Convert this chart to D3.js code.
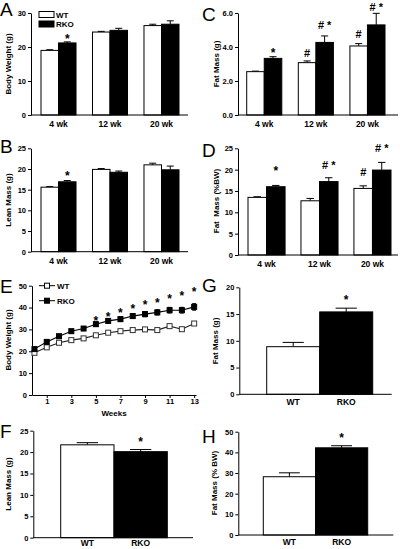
<!DOCTYPE html>
<html><head><meta charset="utf-8">
<script src="https://cdn.jsdelivr.net/npm/d3@7"></script>
<style>
html,body{margin:0;padding:0;background:#fff;}
svg{display:block;font-family:"Liberation Sans",Arial,Helvetica,sans-serif;}
.tick text{font-size:7.5px;font-weight:bold;fill:#000;}
.cat .tick text{font-size:8.5px;}
.domain,.tick line{stroke:#000;stroke-width:1;}
</style></head><body>
<svg id="fig" width="400" height="549"></svg>
<script>
// ---------- data ----------
const ageGroups = ["4 wk", "12 wk", "20 wk"];
const genotypes = ["WT", "RKO"];

// A: body weight (g)
const bodyWeightWT = [19.0, 24.4, 26.3];
const bodyWeightWTErr = [0.2, 0.2, 0.4];
const bodyWeightRKO = [21.2, 24.9, 26.7];
const bodyWeightRKOErr = [0.3, 0.6, 1.0];
const bodyWeightTicks = [0, 10, 20, 30];
const bodyWeightMarks = [{age: "4 wk", genotype: "RKO", text: "*", level: 23.0}];

// B: lean mass (g)
const leanMassWT = [15.6, 19.9, 21.0];
const leanMassWTErr = [0.15, 0.2, 0.4];
const leanMassRKO = [16.9, 19.2, 19.8];
const leanMassRKOErr = [0.3, 0.3, 0.9];
const leanMassTicks = [0, 5, 10, 15, 20, 25];
const leanMassMarks = [{age: "4 wk", genotype: "RKO", text: "*", level: 19.0}];

// C: fat mass (g)
const fatMassWT = [2.55, 3.08, 4.06];
const fatMassWTErr = [0.03, 0.1, 0.14];
const fatMassRKO = [3.33, 4.27, 5.3];
const fatMassRKOErr = [0.1, 0.38, 0.68];
const fatMassTicks = [0, 2, 4, 6];
const fatMassMarks = [
  {age: "4 wk", genotype: "RKO", text: "*", level: 3.82},
  {age: "12 wk", genotype: "WT", text: "#", level: 3.62},
  {age: "12 wk", genotype: "RKO", text: "# *", level: 5.28},
  {age: "20 wk", genotype: "WT", text: "#", level: 4.79},
  {age: "20 wk", genotype: "RKO", text: "# *", level: 6.33}
];

// D: fat mass (%BW)
const fatPctWT = [13.5, 12.7, 15.6];
const fatPctWTErr = [0.15, 0.55, 0.6];
const fatPctRKO = [16.0, 17.2, 19.9];
const fatPctRKOErr = [0.3, 0.9, 1.8];
const fatPctTicks = [0, 5, 10, 15, 20, 25];
const fatPctMarks = [
  {age: "4 wk", genotype: "RKO", text: "*", level: 20.2},
  {age: "12 wk", genotype: "RKO", text: "# *", level: 21.1},
  {age: "20 wk", genotype: "WT", text: "#", level: 19.4},
  {age: "20 wk", genotype: "RKO", text: "# *", level: 25.0}
];

// E: growth curve
const weeks = [0, 1, 2, 3, 4, 5, 6, 7, 8, 9, 10, 11, 12, 13];
const growthWT = [19.3, 21.8, 23.9, 25.1, 25.9, 27.3, 28.5, 29.2, 29.7, 30.0, 29.7, 31.5, 30.1, 32.7];
const growthWTErr = [0.4, 0.5, 0.5, 0.5, 0.6, 0.6, 0.6, 0.7, 0.7, 0.7, 0.8, 0.8, 0.8, 0.9];
const growthRKO = [21.0, 24.3, 26.9, 29.2, 30.4, 32.4, 33.9, 34.7, 36.1, 37.0, 37.8, 38.8, 38.8, 40.3];
const growthRKOErr = [0.6, 0.7, 0.8, 0.8, 0.9, 1.0, 1.0, 1.1, 1.1, 1.2, 1.2, 1.3, 1.3, 1.5];
const growthStarWeeks = [5, 6, 7, 8, 9, 10, 11, 12, 13];
const growthStarLevel = [35.1, 36.9, 38.6, 40.4, 42.2, 43.1, 45.3, 46.5, 48.1];
const growthYTicks = [0, 10, 20, 30, 40, 50];
const weekTicks = [1, 3, 5, 7, 9, 11, 13];

// F, G, H: totals
const leanTotal = [21.7, 20.1];
const leanTotalErr = [0.5, 0.5];
const leanTotalTicks = [0, 5, 10, 15, 20, 25];
const leanTotalMarks = [{genotype: "RKO", text: "*", level: 23.0}];

const fatTotal = [8.9, 15.4];
const fatTotalErr = [0.8, 0.7];
const fatTotalTicks = [0, 5, 10, 15, 20];
const fatTotalMarks = [{genotype: "RKO", text: "*", level: 18.2}];

const fatTotalPct = [28.2, 42.2];
const fatTotalPctErr = [1.9, 1.0];
const fatTotalPctTicks = [0, 10, 20, 30, 40, 50];
const fatTotalPctMarks = [{genotype: "RKO", text: "*", level: 48.4}];

// ---------- drawing ----------
const svg = d3.select("#fig");
const fillOf = gt => gt === "WT" ? "#fff" : "#000";

function cleanAxis(sel) { sel.attr("font-size", null).attr("font-family", null); }

function markText(g, x, yc, text) {
  const fs = text === "*" ? 12 : 11;
  const off = text === "*" ? 0.55 * fs : 0.36 * fs;
  g.append("text").attr("x", x).attr("y", yc + off).attr("text-anchor", "middle")
    .attr("font-size", fs).attr("font-weight", "bold").style("white-space", "pre").text(text);
}

function panelLetter(letter, x, y) {
  svg.append("text").attr("x", x).attr("y", y).attr("font-size", 19).text(letter);
}

function yTitle(text, x, yc) {
  svg.append("text").attr("transform", `translate(${x},${yc}) rotate(-90)`)
    .attr("text-anchor", "middle").attr("dominant-baseline", "central")
    .attr("font-size", 8).attr("font-weight", "bold").style("white-space", "pre").text(text);
}

function errBar(g, cx, yTop, yBase, cap) {
  g.append("line").attr("x1", cx).attr("x2", cx).attr("y1", yBase).attr("y2", yTop).attr("stroke", "#000");
  g.append("line").attr("x1", cx - cap / 2).attr("x2", cx + cap / 2).attr("y1", yTop).attr("y2", yTop).attr("stroke", "#000");
}

function groupedPanel(o) {
  const g = svg.append("g");
  const y = d3.scaleLinear().domain([0, o.max]).range([o.y0, o.yTop]);
  const x = d3.scaleBand().domain(ageGroups).range(o.band).paddingInner(o.pad).paddingOuter(0);
  const xi = d3.scaleBand().domain(genotypes).range([0, x.bandwidth()]);
  const rows = ageGroups.flatMap((a, i) => [
    {a, gt: "WT", v: o.wt[i], e: o.wtErr[i]},
    {a, gt: "RKO", v: o.rko[i], e: o.rkoErr[i]}
  ]);
  rows.forEach(r => {
    const cx = x(r.a) + xi(r.gt) + xi.bandwidth() / 2;
    errBar(g, cx, y(r.v + r.e), y(r.v), xi.bandwidth() * 0.4);
  });
  g.selectAll("rect.bar").data(rows).join("rect").attr("class", "bar")
    .attr("x", d => x(d.a) + xi(d.gt)).attr("width", xi.bandwidth())
    .attr("y", d => y(d.v)).attr("height", d => y(0) - y(d.v))
    .attr("fill", d => fillOf(d.gt)).attr("stroke", "#000").attr("stroke-width", 1);
  g.append("g").attr("transform", `translate(${o.ax},0)`)
    .call(d3.axisLeft(y).tickValues(o.ticks).tickSize(3).tickPadding(2).tickSizeOuter(0)).call(cleanAxis);
  g.append("line").attr("x1", o.ax).attr("x2", o.axEnd).attr("y1", o.y0).attr("y2", o.y0).attr("stroke", "#000");
  g.append("g").attr("class", "cat").attr("transform", `translate(0,${o.y0})`)
    .call(d3.axisBottom(x).tickSize(0).tickPadding(6)).call(cleanAxis).call(s => s.select(".domain").remove());
  o.marks.forEach(m => {
    const cx = x(m.age) + xi(m.genotype) + xi.bandwidth() / 2;
    markText(g, cx, y(m.level), m.text);
  });
}

function totalPanel(o) {
  const g = svg.append("g");
  const y = d3.scaleLinear().domain([0, o.max]).range([o.y0, o.yTop]);
  const x = d3.scaleBand().domain(genotypes).range(o.band);
  const rows = genotypes.map((gt, i) => ({gt, v: o.vals[i], e: o.errs[i]}));
  rows.forEach(r => errBar(g, x(r.gt) + x.bandwidth() / 2, y(r.v + r.e), y(r.v), x.bandwidth() * 0.4));
  g.selectAll("rect.bar").data(rows).join("rect").attr("class", "bar")
    .attr("x", d => x(d.gt)).attr("width", x.bandwidth())
    .attr("y", d => y(d.v)).attr("height", d => y(0) - y(d.v))
    .attr("fill", d => fillOf(d.gt)).attr("stroke", "#000").attr("stroke-width", 1);
  g.append("g").attr("transform", `translate(${o.ax},0)`)
    .call(d3.axisLeft(y).tickValues(o.ticks).tickSize(3).tickPadding(2).tickSizeOuter(0)).call(cleanAxis);
  g.append("line").attr("x1", o.ax).attr("x2", o.axEnd).attr("y1", o.y0).attr("y2", o.y0).attr("stroke", "#000");
  g.append("g").attr("class", "cat").attr("transform", `translate(0,${o.y0})`)
    .call(d3.axisBottom(x).tickSize(0).tickPadding(o.labelPad)).call(cleanAxis).call(s => s.select(".domain").remove());
  o.marks.forEach(m => markText(g, x(m.genotype) + x.bandwidth() / 2, y(m.level), m.text));
}

// A
groupedPanel({max: 30, y0: 115, yTop: 13, ax: 31, axEnd: 188, band: [41, 179], pad: 0.32,
  wt: bodyWeightWT, wtErr: bodyWeightWTErr, rko: bodyWeightRKO, rkoErr: bodyWeightRKOErr,
  ticks: bodyWeightTicks, marks: bodyWeightMarks});
panelLetter("A", 0, 15.5);
yTitle("Body Weight (g)", 8, 64);
// legend A
genotypes.forEach((gt, i) => {
  const ly = [14.5, 24][i];
  svg.append("rect").attr("x", 39).attr("y", ly - 3).attr("width", 15).attr("height", 6)
    .attr("fill", fillOf(gt)).attr("stroke", "#000");
  svg.append("text").attr("x", 56).attr("y", ly + 3).attr("font-size", 8).attr("font-weight", "bold").text(gt);
});

// B
groupedPanel({max: 25, y0: 251.7, yTop: 148.3, ax: 31, axEnd: 188, band: [41, 179], pad: 0.32,
  wt: leanMassWT, wtErr: leanMassWTErr, rko: leanMassRKO, rkoErr: leanMassRKOErr,
  ticks: leanMassTicks, marks: leanMassMarks});
panelLetter("B", 0, 153);
yTitle("Lean Mass (g)", 8, 200);

// C
groupedPanel({max: 6, y0: 115, yTop: 13, ax: 238, axEnd: 398, band: [246.7, 385], pad: 0.32,
  wt: fatMassWT, wtErr: fatMassWTErr, rko: fatMassRKO, rkoErr: fatMassRKOErr,
  ticks: fatMassTicks, marks: fatMassMarks});
panelLetter("C", 202, 21);
yTitle("Fat Mass (g)", 216, 64);

// D
groupedPanel({max: 25, y0: 255, yTop: 148.3, ax: 238, axEnd: 398, band: [248, 391], pad: 0.3,
  wt: fatPctWT, wtErr: fatPctWTErr, rko: fatPctRKO, rkoErr: fatPctRKOErr,
  ticks: fatPctTicks, marks: fatPctMarks});
panelLetter("D", 202, 157);
yTitle("Fat  Mass (%BW)", 216, 201);

// E
(function () {
  const g = svg.append("g");
  const x = d3.scaleLinear().domain([-0.2, 13.15]).range([32, 196]);
  const y = d3.scaleLinear().domain([0, 50]).range([395, 285.7]);
  g.append("g").attr("transform", "translate(32,0)")
    .call(d3.axisLeft(y).tickValues(growthYTicks).tickSize(3).tickPadding(2).tickSizeOuter(0)).call(cleanAxis);
  g.append("g").attr("transform", "translate(0,395)")
    .call(d3.axisBottom(x).tickValues(weekTicks).tickSize(3).tickPadding(1).tickSizeOuter(0)).call(cleanAxis);
  g.append("text").attr("x", 114).attr("y", 416).attr("text-anchor", "middle")
    .attr("font-size", 8).attr("font-weight", "bold").text("Weeks");
  const series = [
    {gt: "WT", v: growthWT, e: growthWTErr},
    {gt: "RKO", v: growthRKO, e: growthRKOErr}
  ];
  const line = d3.line().x((d, i) => x(weeks[i])).y(d => y(d));
  series.forEach(s => {
    s.v.forEach((v, i) => {
      const cx = x(weeks[i]);
      g.append("line").attr("x1", cx).attr("x2", cx).attr("y1", y(v - s.e[i])).attr("y2", y(v + s.e[i])).attr("stroke", "#000");
      [v - s.e[i], v + s.e[i]].forEach(w => g.append("line").attr("x1", cx - 2).attr("x2", cx + 2)
        .attr("y1", y(w)).attr("y2", y(w)).attr("stroke", "#000"));
    });
    g.append("path").datum(s.v).attr("d", line).attr("fill", "none")
      .attr("stroke", s.gt === "WT" ? "#222" : "#000").attr("stroke-width", 1.1);
    g.selectAll(null).data(s.v).join("rect")
      .attr("x", (d, i) => x(weeks[i]) - 2.5).attr("y", d => y(d) - 2.5)
      .attr("width", 5).attr("height", 5)
      .attr("fill", fillOf(s.gt)).attr("stroke", s.gt === "WT" ? "#333" : "#000");
  });
  growthStarWeeks.forEach((w, i) => markText(g, x(w), y(growthStarLevel[i]), "*"));
  // legend
  genotypes.forEach((gt, i) => {
    const ly = [285.7, 300.7][i];
    g.append("line").attr("x1", 39).attr("x2", 55).attr("y1", ly).attr("y2", ly).attr("stroke", "#000");
    g.append("rect").attr("x", 44.5).attr("y", ly - 2.5).attr("width", 5).attr("height", 5)
      .attr("fill", fillOf(gt)).attr("stroke", "#000");
    g.append("text").attr("x", 57).attr("y", ly + 3).attr("font-size", 8).attr("font-weight", "bold").text(gt);
  });
})();
panelLetter("E", 0, 293);
yTitle("Body Weight (g)", 8, 340);

// F
totalPanel({max: 25, y0: 537.7, yTop: 430.7, ax: 33.3, axEnd: 193, band: [60.7, 167.3], labelPad: 2.5,
  vals: leanTotal, errs: leanTotalErr, ticks: leanTotalTicks, marks: leanTotalMarks});
panelLetter("F", 0, 438);
yTitle("Lean Mass (g)", 8, 484);

// G
totalPanel({max: 20, y0: 394.3, yTop: 287.3, ax: 239.3, axEnd: 391.7, band: [266.7, 372.7], labelPad: 5,
  vals: fatTotal, errs: fatTotalErr, ticks: fatTotalTicks, marks: fatTotalMarks});
panelLetter("G", 202, 292);
yTitle("Fat Mass (g)", 215, 341);

// H
totalPanel({max: 50, y0: 535, yTop: 431.7, ax: 238.3, axEnd: 393.3, band: [263.3, 367.7], labelPad: 4,
  vals: fatTotalPct, errs: fatTotalPctErr, ticks: fatTotalPctTicks, marks: fatTotalPctMarks});
panelLetter("H", 202, 443);
yTitle("Fat Mass (% BW)", 214, 483);
</script>
</body></html>
